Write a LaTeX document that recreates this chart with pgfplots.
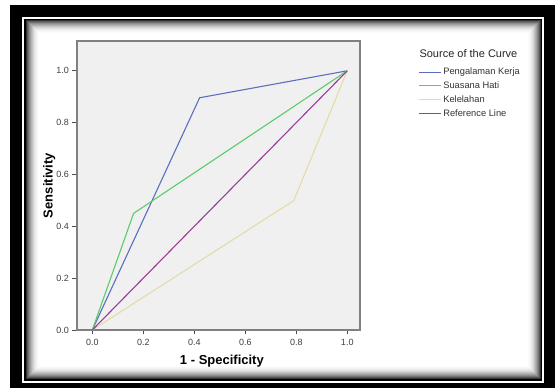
\documentclass[border=0pt]{standalone}
\usepackage{pgfplots}
\pgfplotsset{compat=1.18}
\usepackage{fontspec}
\setmainfont{Liberation Sans}
\definecolor{cBlue}{HTML}{5A6FC0}
\definecolor{cGreen}{HTML}{5CCB6A}
\definecolor{cBeige}{HTML}{E4DCA8}
\definecolor{cPurple}{HTML}{9A3A9A}
\definecolor{plotbg}{HTML}{F0F0F0}
\definecolor{framegray}{HTML}{808080}
\begin{document}
\begin{tikzpicture}[x=1pt,y=1pt]
% outer canvas
\fill[white] (0,0) rectangle (555,388);
\fill[black] (10,0) rectangle (555,383);
\draw[white,line width=1.5pt] (23,6) rectangle (543,370);
\fill[black!80] (25.5,8.5) rectangle (540.5,367.5);
% inner shadow panel
\foreach \i/\g in {0/35,1/45,2/55,3/63,4/70,5/77,6/83,7/88,8/92,9/95,10/97,11/99,12/100}{
  \fill[white!\g!black] (26.5+\i,9.5+\i) rectangle (539.5-\i,366.5-\i);
}
\node[anchor=west,font=\fontsize{11}{13}\selectfont,text=black!85] at (416,334) {Source of the Curve};
\begin{axis}[
  at={(77pt,58pt)}, anchor=south west,
  scale only axis, width=283pt, height=289pt,
  xmin=-0.06, xmax=1.05, ymin=0, ymax=1.115,
  axis background/.style={fill=plotbg},
  axis line style={framegray,line width=1.6pt},
  xtick={0,0.2,0.4,0.6,0.8,1.0},
  ytick={0,0.2,0.4,0.6,0.8,1.0},
  xticklabels={0.0,0.2,0.4,0.6,0.8,1.0},
  yticklabels={0.0,0.2,0.4,0.6,0.8,1.0},
  tick label style={font=\fontsize{9}{10}\selectfont,text=black!75},
  xticklabel style={yshift=-1pt},
  tick align=outside, tick pos=left,
  major tick length=4.5pt,
  tick style={black!70,line width=0.9pt},
  xlabel={\textbf{1 - Specificity}},
  ylabel={\textbf{Sensitivity}},
  label style={font=\fontsize{13}{15}\selectfont},
  xlabel style={at={(axis description cs:0.512,-0.107)},anchor=center},
  ylabel style={at={(axis description cs:-0.098,0.5)},anchor=center},
  legend style={at={(axis description cs:1.205,0.914)},anchor=north west,
    draw=none,fill=none,font=\fontsize{9.3}{10.5}\selectfont,text=black!80,
    row sep=1.5pt,inner sep=0pt},
  legend cell align=left,
  legend image code/.code={\draw[#1] (0pt,0pt) -- (22pt,0pt);},
  clip=false,
]
\addplot[cBlue,line width=1.1pt] coordinates {(0,0) (0.421,0.896) (1,1)};
\addlegendentry{Pengalaman Kerja}
\addplot[cGreen,line width=1.1pt] coordinates {(0,0) (0.162,0.450) (1,1)};
\addlegendentry{Suasana Hati}
\addplot[cBeige,line width=1.1pt] coordinates {(0,0) (0.790,0.499) (1,1)};
\addlegendentry{Kelelahan}
\addplot[cPurple,line width=1.1pt] coordinates {(0,0) (1,1)};
\addlegendentry{Reference Line}
\end{axis}
\end{tikzpicture}
\end{document}
